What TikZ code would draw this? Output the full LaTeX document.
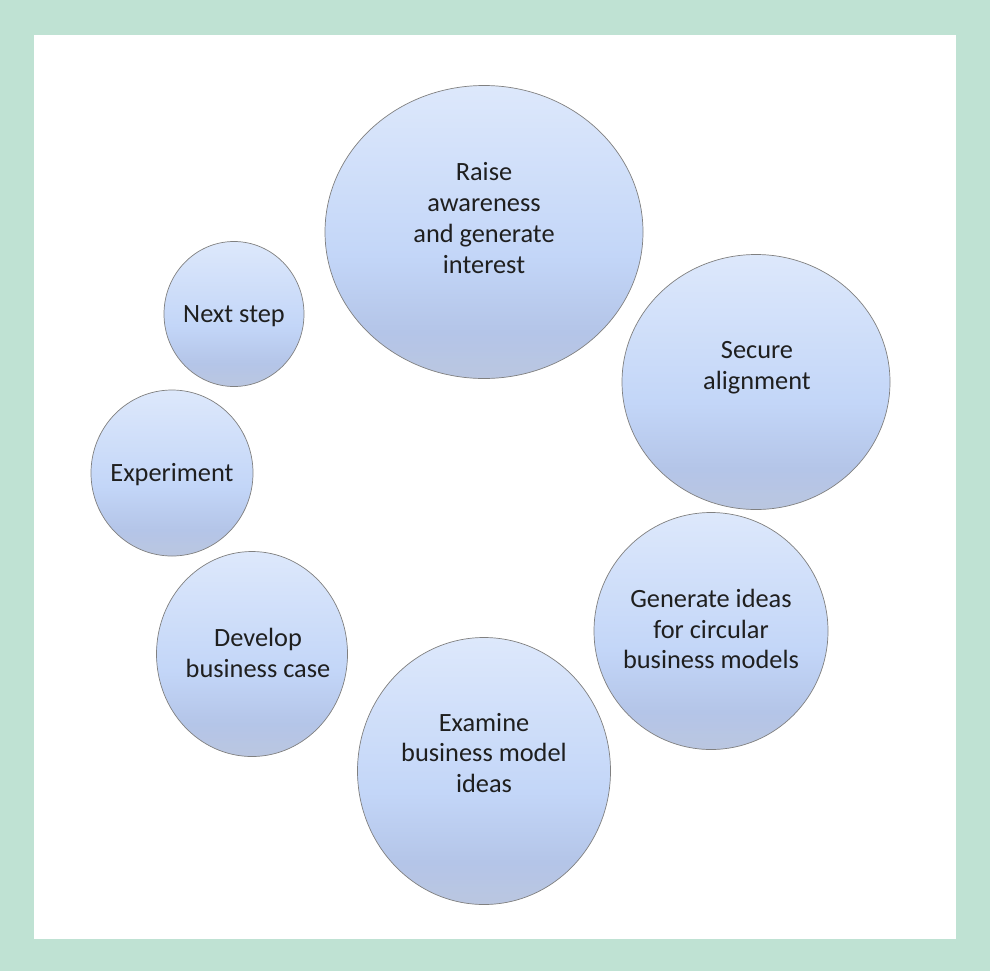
\documentclass[tikz,border=0pt]{standalone}
\usepackage{fontspec}
\setmainfont{Carlito}
\usetikzlibrary{shapes.geometric}
\definecolor{frame}{HTML}{BFE2D3}
\definecolor{bubbletop}{HTML}{DDE8FB}
\definecolor{bubblemid}{HTML}{C3D6F8}
\definecolor{bubbleband}{HTML}{B4C5E8}
\definecolor{bubblebot}{HTML}{BAC6E0}
\definecolor{bubbleline}{HTML}{808080}
\pgfdeclareverticalshading{bubbleshade}{100bp}{color(0bp)=(bubblebot); color(25bp)=(bubblebot); color(33bp)=(bubbleband); color(46bp)=(bubblemid); color(75bp)=(bubbletop); color(100bp)=(bubbletop)}
\tikzset{
  bubble/.style={ellipse, draw=bubbleline, line width=0.6pt, shading=bubbleshade, inner sep=0pt},
  txt/.style={align=center, text=black!88, font=\fontsize{22.5}{26.4}\selectfont}
}

\begin{document}
\begin{tikzpicture}[x=0.03cm,y=-0.03cm]
  % frame
  \fill[frame] (0,0) rectangle (990,971);
  \fill[white] (34,35) rectangle (956,939);
  % bubbles
  \node[bubble, minimum width=318*0.03cm, minimum height=293*0.03cm] (raise) at (484,232) {};
  \node[bubble, minimum width=268*0.03cm, minimum height=255*0.03cm] (secure) at (756,382) {};
  \node[bubble, minimum width=234*0.03cm, minimum height=237*0.03cm] (ideas) at (711,631) {};
  \node[bubble, minimum width=253*0.03cm, minimum height=267*0.03cm] (examine) at (484,771) {};
  \node[bubble, minimum width=191*0.03cm, minimum height=205*0.03cm] (develop) at (252,654) {};
  \node[bubble, minimum width=162*0.03cm, minimum height=166*0.03cm] (experiment) at (172,473) {};
  \node[bubble, minimum width=140*0.03cm, minimum height=145*0.03cm] (nextstep) at (234,314) {};
  % texts
  \node[txt] (raise-t) at (484,218) {Raise\\awareness\\and generate\\interest};
  \node[txt] (secure-t) at (757,368) {Secure\\alignment};
  \node[txt] (ideas-t) at (711,629) {Generate ideas\\for circular\\business models};
  \node[txt] (examine-t) at (484,753) {Examine\\business model\\ideas};
  \node[txt] (develop-t) at (258,653) {Develop\\business case};
  \node[txt] (experiment-t) at (172,475) {Experiment};
  \node[txt] (nextstep-t) at (234,316) {Next step};
\end{tikzpicture}
\end{document}
